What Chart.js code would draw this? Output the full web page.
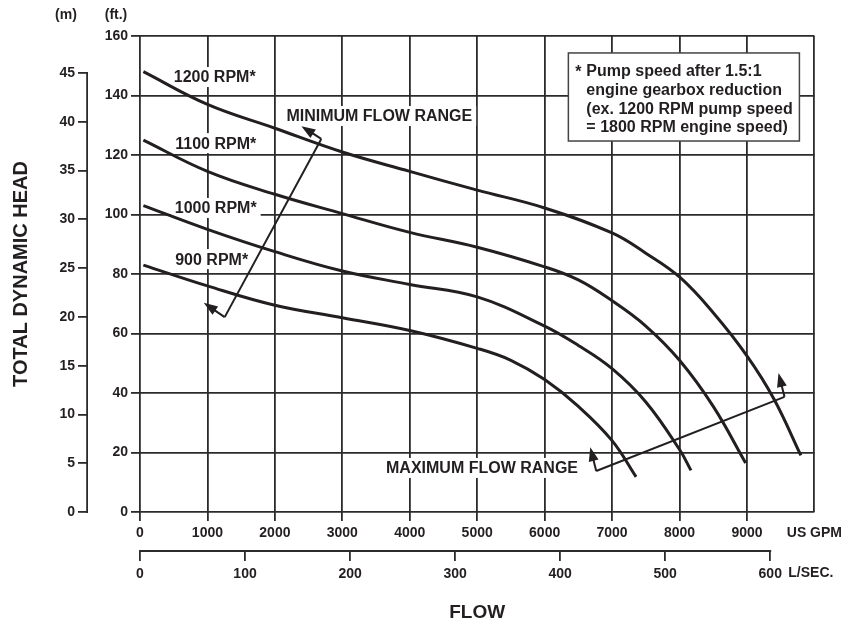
<!DOCTYPE html>
<html>
<head>
<meta charset="utf-8">
<title>Pump performance curve</title>
<script src="https://cdn.jsdelivr.net/npm/chart.js@4.4.1/dist/chart.umd.min.js"></script>
<style>
  html, body { margin: 0; padding: 0; background: #fff; }
  #wrap { width: 846px; height: 626px; }
</style>
</head>
<body>
<div id="wrap"><canvas id="pumpChart" width="846" height="626"></canvas></div>
<script>
// flow (US GPM) and head (ft)
var flow1200 = [50, 1000, 2000, 3000, 4000, 5000, 6000, 7000, 7500, 8000, 8500, 9000, 9400, 9800];
var head1200 = [148, 137, 129, 121, 114.5, 108.2, 102.2, 93.8, 87, 79, 67, 52.5, 38, 19];

var flow1100 = [50, 1000, 2000, 3000, 4000, 5000, 6000, 6500, 7000, 7500, 8000, 8500, 8980];
var head1100 = [125, 114.5, 106.8, 100.3, 94, 89, 82.4, 78, 71, 62.5, 51, 35.5, 16.5];

var flow1000 = [50, 1000, 2000, 3000, 4000, 5000, 6000, 6500, 7000, 7500, 8000, 8170];
var head1000 = [103, 95, 87.5, 81, 76.5, 72.3, 62.5, 56, 48.2, 37, 21, 14];

var flow900 = [50, 1000, 2000, 3000, 4000, 5000, 5500, 6000, 6500, 7000, 7356];
var head900 = [83, 76, 69.5, 65.3, 61, 55, 51, 44.5, 35.5, 24, 11.8];

var rpmNames = ["1200 RPM*", "1100 RPM*", "1000 RPM*", "900 RPM*"];
// label spots in gpm / ft
var rpmLabelAt = [[1108, 146.2], [1123, 124], [1123, 102.2], [1063, 85]];

// axis ticks
var gpmTicks = [0, 1000, 2000, 3000, 4000, 5000, 6000, 7000, 8000, 9000, 10000];
var lpsTicks = [0, 100, 200, 300, 400, 500, 600];
var ftTicks = [0, 20, 40, 60, 80, 100, 120, 140, 160];
var mTicks = [0, 5, 10, 15, 20, 25, 30, 35, 40, 45];

// the two range arrows: tip, corner, corner, tip (gpm / ft)
var minArrow = [[2393, 129.7], [2688, 125.4], [1256, 65.5], [945, 70.3]];
var maxArrow = [[6677, 21.8], [6765, 13.8], [9557, 38.7], [9468, 46.7]];
var minLabelAt = [2171, 133.1];
var maxLabelAt = [3648, 14.8];

var noteLines = ["Pump speed after 1.5:1", "engine gearbox reduction", "(ex. 1200 RPM pump speed", "= 1800 RPM engine speed)"];
var noteBox = [[6352, 154.3], [9778, 124.7]];

var ink = "#231f20";
var gridInk = "#2b2b2b";
var FONT = "'Liberation Sans', Arial, sans-serif";

Chart.defaults.font.family = FONT;
Chart.defaults.font.weight = "bold";
Chart.defaults.color = ink;

function pts(xs, ys) {
  return xs.map(function (x, i) { return { x: x, y: ys[i] }; });
}

function curveSet(name, xs, ys) {
  return {
    label: name,
    data: pts(xs, ys),
    showLine: true,
    borderColor: ink,
    borderWidth: 3,
    pointRadius: 0,
    tension: 0.4,
    xAxisID: "x",
    yAxisID: "y"
  };
}

function tickList(arr) {
  return function (scale) { scale.ticks = arr.map(function (v) { return { value: v }; }); };
}

function arrowHead(ctx, x1, y1, x2, y2) {
  var a = Math.atan2(y2 - y1, x2 - x1);
  var len = 14, w = 5;
  ctx.beginPath();
  ctx.moveTo(x1, y1);
  ctx.lineTo(x2 - len * 0.7 * Math.cos(a), y2 - len * 0.7 * Math.sin(a));
  ctx.stroke();
  ctx.beginPath();
  ctx.moveTo(x2, y2);
  ctx.lineTo(x2 - len * Math.cos(a) + w * Math.sin(a), y2 - len * Math.sin(a) - w * Math.cos(a));
  ctx.lineTo(x2 - len * Math.cos(a) - w * Math.sin(a), y2 - len * Math.sin(a) + w * Math.cos(a));
  ctx.closePath();
  ctx.fill();
}

function tag(ctx, text, x, y, centred) {
  ctx.font = "bold 16px " + FONT;
  var w = ctx.measureText(text).width;
  var left = centred ? x - w / 2 : x;
  ctx.fillStyle = "#fff";
  ctx.fillRect(left - 4, y - 10, w + 8, 20);
  ctx.fillStyle = ink;
  ctx.textAlign = "left";
  ctx.textBaseline = "middle";
  ctx.fillText(text, left, y + 1);
}

var extras = {
  id: "extras",
  beforeDatasetsDraw: function (chart) {
    var ctx = chart.ctx, sx = chart.scales.x, sy = chart.scales.y;
    ctx.save();
    // rpm labels (white box cuts the grid)
    rpmNames.forEach(function (t, i) {
      tag(ctx, t, sx.getPixelForValue(rpmLabelAt[i][0]), sy.getPixelForValue(rpmLabelAt[i][1]), true);
    });
    tag(ctx, "MINIMUM FLOW RANGE", sx.getPixelForValue(minLabelAt[0]), sy.getPixelForValue(minLabelAt[1]), false);
    tag(ctx, "MAXIMUM FLOW RANGE", sx.getPixelForValue(maxLabelAt[0]), sy.getPixelForValue(maxLabelAt[1]), false);

    // note box top right
    var bx = sx.getPixelForValue(noteBox[0][0]), by = sy.getPixelForValue(noteBox[0][1]);
    var bx2 = sx.getPixelForValue(noteBox[1][0]), by2 = sy.getPixelForValue(noteBox[1][1]);
    ctx.fillStyle = "#fff";
    ctx.fillRect(bx, by, bx2 - bx, by2 - by);
    ctx.strokeStyle = "#444";
    ctx.lineWidth = 1.5;
    ctx.strokeRect(bx, by, bx2 - bx, by2 - by);
    ctx.fillStyle = ink;
    ctx.font = "bold 16px " + FONT;
    ctx.textAlign = "left";
    ctx.textBaseline = "middle";
    ctx.fillText("*", bx + 7, by + 20);
    noteLines.forEach(function (l, i) {
      ctx.fillText(l, bx + 18, by + 19 + i * 18.7);
    });
    ctx.restore();
  },
  afterDatasetsDraw: function (chart) {
    var ctx = chart.ctx, sx = chart.scales.x, sy = chart.scales.y;
    ctx.save();
    ctx.strokeStyle = ink;
    ctx.fillStyle = ink;
    ctx.lineWidth = 2;
    [minArrow, maxArrow].forEach(function (ar) {
      var p = ar.map(function (q) { return [sx.getPixelForValue(q[0]), sy.getPixelForValue(q[1])]; });
      ctx.beginPath();
      ctx.moveTo(p[1][0], p[1][1]);
      ctx.lineTo(p[2][0], p[2][1]);
      ctx.stroke();
      arrowHead(ctx, p[1][0], p[1][1], p[0][0], p[0][1]);
      arrowHead(ctx, p[2][0], p[2][1], p[3][0], p[3][1]);
    });
    ctx.restore();
  },
  afterDraw: function (chart) {
    var ctx = chart.ctx, ym = chart.scales.yM, x2 = chart.scales.x2, area = chart.chartArea;
    ctx.save();
    ctx.strokeStyle = gridInk;
    ctx.lineWidth = 1.8;
    // metre axis only runs 0..45
    ctx.beginPath();
    ctx.moveTo(ym.right - 0.9, ym.getPixelForValue(45));
    ctx.lineTo(ym.right - 0.9, ym.getPixelForValue(0) + 0.9);
    ctx.stroke();
    // L/sec axis only runs 0..600
    ctx.beginPath();
    ctx.moveTo(x2.getPixelForValue(0) - 0.9, x2.top);
    ctx.lineTo(x2.getPixelForValue(600) + 0.9, x2.top);
    ctx.stroke();

    ctx.fillStyle = ink;
    ctx.font = "bold 14px " + FONT;
    ctx.textBaseline = "middle";
    ctx.textAlign = "center";
    ctx.fillText("(m)", ym.right - 22, 15);
    ctx.fillText("(ft.)", area.left - 24, 15);
    ctx.textAlign = "left";
    ctx.fillText("L/SEC.", x2.getPixelForValue(600) + 18, x2.top + 22);
    ctx.restore();
  }
};

var pumpChart = new Chart(document.getElementById("pumpChart"), {
  type: "scatter",
  data: {
    datasets: [
      curveSet("1200 RPM", flow1200, head1200),
      curveSet("1100 RPM", flow1100, head1100),
      curveSet("1000 RPM", flow1000, head1000),
      curveSet("900 RPM", flow900, head900)
    ]
  },
  options: {
    responsive: false,
    animation: false,
    layout: { autoPadding: false, padding: { top: 36, right: 29, bottom: 0, left: 0 } },
    plugins: {
      legend: { display: false },
      tooltip: { enabled: false }
    },
    scales: {
      x: {
        type: "linear", position: "bottom", min: 0, max: 10000,
        afterBuildTicks: tickList(gpmTicks),
        ticks: {
          autoSkip: false, maxRotation: 0, padding: 4,
          font: { size: 14, weight: "bold" },
          callback: function (v) { return v === 10000 ? "US GPM" : "" + v; }
        },
        grid: {
          color: gridInk, lineWidth: 1.8, tickLength: 9,
          tickColor: function (c) { return c.tick && c.tick.value === 10000 ? "rgba(0,0,0,0)" : gridInk; }
        },
        border: { display: false },
        afterFit: function (s) { s.height = 39; }
      },
      x2: {
        type: "linear", position: "bottom", min: 0, max: 642,
        afterBuildTicks: tickList(lpsTicks),
        ticks: {
          autoSkip: false, maxRotation: 0, padding: 5,
          font: { size: 14, weight: "bold" },
          callback: function (v) { return "" + v; }
        },
        grid: { drawOnChartArea: false, color: gridInk, lineWidth: 1.8, tickLength: 10 },
        border: { display: false },
        title: { display: true, text: "FLOW", font: { size: 19, weight: "bold" }, padding: { top: 0, bottom: 2 } },
        afterFit: function (s) { s.height = 75; }
      },
      y: {
        type: "linear", position: "left", min: 0, max: 160, weight: 0,
        afterBuildTicks: tickList(ftTicks),
        ticks: { padding: 3, font: { size: 14, weight: "bold" } },
        grid: { color: gridInk, lineWidth: 1.8, tickLength: 9 },
        border: { display: false },
        afterFit: function (s) { s.width = 52; }
      },
      yM: {
        type: "linear", position: "left", min: 0, max: 48.8, weight: 1,
        afterBuildTicks: tickList(mTicks),
        ticks: { padding: 3, font: { size: 14, weight: "bold" } },
        grid: { drawOnChartArea: false, color: gridInk, lineWidth: 1.8, tickLength: 10 },
        border: { display: false },
        title: { display: true, text: "TOTAL DYNAMIC HEAD", font: { size: 20, weight: "bold", lineHeight: 1.2 }, padding: { top: 9, bottom: 0 } },
        afterFit: function (s) { s.width = 88; }
      }
    }
  },
  plugins: [extras]
});
</script>
</body>
</html>
